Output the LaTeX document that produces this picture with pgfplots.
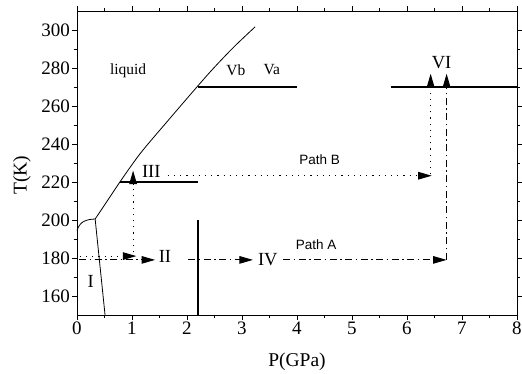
\documentclass[border=0pt]{standalone}
\usepackage{fontspec}
\setmainfont{Liberation Serif}
\newfontfamily\arialfont{Liberation Sans}
\usepackage{pgfplots}
\pgfplotsset{compat=1.18}
\usetikzlibrary{arrows.meta}
\begin{document}
\begin{tikzpicture}
\useasboundingbox (-77pt,-59pt) rectangle (445pt,315pt);
\begin{axis}[
  scale only axis,
  width=440pt, height=304pt,
  xmin=0, xmax=8, ymin=150, ymax=310,
  xtick={0,1,...,8}, ytick={160,180,...,300},
  minor x tick num=1, minor y tick num=1,
  tick align=outside,
  major tick length=5pt, minor tick length=3pt,
  every tick/.style={black, line width=0.7pt},
  axis line style={line width=0.8pt},
  /pgf/number format/assume math mode=true,
  tick label style={font=\fontsize{19}{19}\selectfont},
  xticklabel style={inner sep=2pt},
  yticklabel style={inner sep=2pt},
  xlabel={P(GPa)}, ylabel={T(K)},
  label style={font=\fontsize{19.5}{19.5}\selectfont},
  xlabel style={at={(axis description cs:0.5,0)}, anchor=center, yshift=-47pt},
  ylabel style={at={(axis description cs:-0.125,0.46)}, anchor=center},
  clip=false,
]
% melting curve and I/III boundary
\addplot[black, line width=0.8pt, smooth] coordinates {(0,194.5) (0.03,196.5) (0.08,198.4) (0.15,199.6) (0.24,200.3) (0.33,200.5)};
\addplot[black, line width=0.8pt] coordinates {(0.33,200.5) (0.78,220)};
\addplot[black, line width=0.8pt, smooth] coordinates {(0.78,220) (1.15,235) (1.66,252.5) (2.18,270) (2.48,279.8) (2.85,291) (3.24,301.7)};
\addplot[black, line width=0.8pt] coordinates {(0.33,200.5) (0.51,150)};
% thick phase boundaries
\addplot[black, line width=2.2pt] coordinates {(0.78,220) (2.2,220)};
\addplot[black, line width=2.2pt] coordinates {(2.2,150) (2.2,200)};
\addplot[black, line width=2.2pt] coordinates {(2.2,270) (4.0,270)};
\addplot[black, line width=2.2pt] coordinates {(5.71,270) (8,270)};
% Path A (dash-dot)
\addplot[black, line width=0.9pt, dash pattern=on 7pt off 3.5pt on 1.5pt off 3.5pt, -{Triangle[length=13.5pt,width=7.5pt]}] coordinates {(0.04,179) (1.42,179)};
\addplot[black, line width=0.9pt, dash pattern=on 7pt off 3.5pt on 1.5pt off 3.5pt, -{Triangle[length=13.5pt,width=7.5pt]}] coordinates {(2.02,179) (3.2,179)};
\addplot[black, line width=0.9pt, dash pattern=on 7pt off 3.5pt on 1.5pt off 3.5pt, -{Triangle[length=13.5pt,width=7.5pt]}] coordinates {(3.75,179) (6.72,179)};
\addplot[black, line width=0.9pt, dash pattern=on 7pt off 3.5pt on 1.5pt off 3.5pt, -{Triangle[length=13.5pt,width=7.5pt]}] coordinates {(6.72,179) (6.72,277)};
% Path B (dotted)
\addplot[black, line width=1.1pt, dash pattern=on 1.2pt off 5pt, -{Triangle[length=13.5pt,width=7.5pt]}] coordinates {(0.05,181) (1.08,181)};
\addplot[black, line width=1.1pt, dash pattern=on 1.2pt off 5pt, -{Triangle[length=13.5pt,width=7.5pt]}] coordinates {(1.02,183) (1.02,226)};
\addplot[black, line width=1.1pt, dash pattern=on 1.2pt off 5pt, -{Triangle[length=13.5pt,width=7.5pt]}] coordinates {(1.65,223.3) (6.45,223.3)};
\addplot[black, line width=1.1pt, dash pattern=on 1.2pt off 5pt, -{Triangle[length=13.5pt,width=7.5pt]}] coordinates {(6.43,224) (6.43,277)};
% labels
\node[font=\fontsize{15.5}{15.5}\selectfont] at (axis cs:0.93,278.5) {liquid};
\node[font=\fontsize{15.5}{15.5}\selectfont] at (axis cs:2.89,279) {Vb};
\node[font=\fontsize{15.5}{15.5}\selectfont] at (axis cs:3.54,279) {Va};
\node[font=\fontsize{18.5}{18.5}\selectfont] at (axis cs:6.63,283) {VI};
\node[font=\fontsize{18.5}{18.5}\selectfont] at (axis cs:1.35,225.5) {III};
\node[font=\fontsize{18.5}{18.5}\selectfont] at (axis cs:1.6,180.7) {II};
\node[font=\fontsize{18.5}{18.5}\selectfont] at (axis cs:0.25,167.5) {I};
\node[font=\fontsize{18.5}{18.5}\selectfont] at (axis cs:3.47,179.3) {IV};
\node[font=\arialfont\fontsize{13.5}{13.5}\selectfont] at (axis cs:4.35,186.8) {Path A};
\node[font=\arialfont\fontsize{13.5}{13.5}\selectfont] at (axis cs:4.41,232) {Path B};
\end{axis}
\end{tikzpicture}
\end{document}
